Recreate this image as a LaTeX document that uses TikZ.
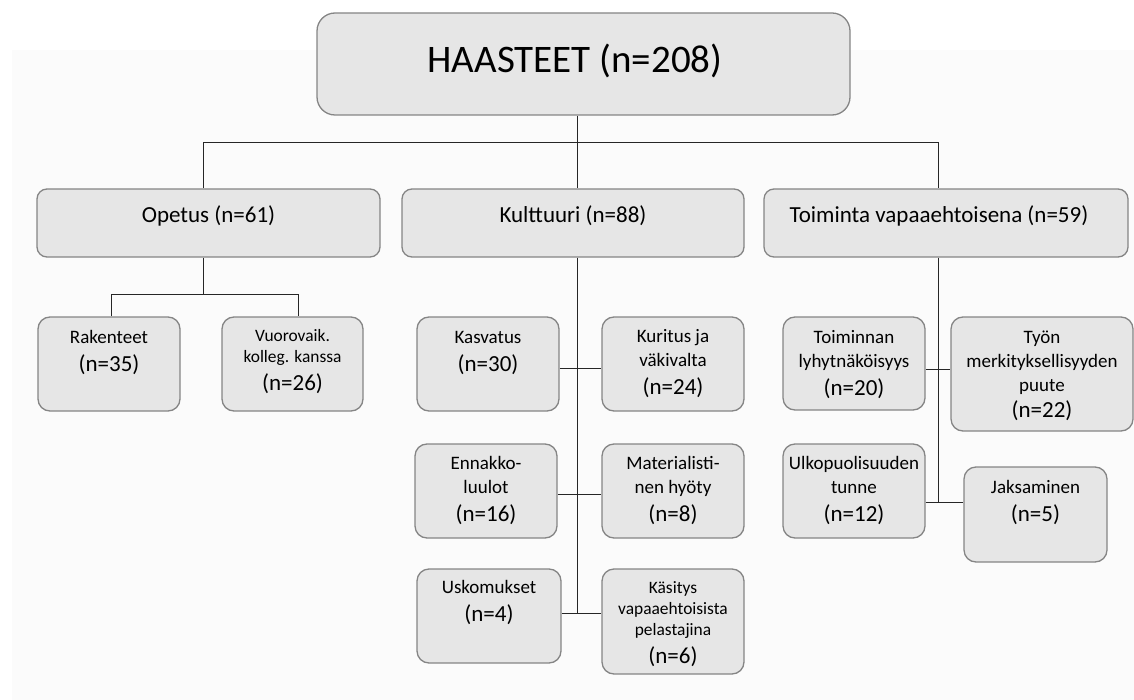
\documentclass[tikz,border=0pt]{standalone}
\usepackage{fontspec}
\setmainfont{Carlito}
\usetikzlibrary{calc}
\definecolor{boxFill}{HTML}{E6E6E6}
\definecolor{boxLine}{HTML}{858585}
\definecolor{paperGray}{HTML}{FBFBFB}
\newcommand{\nCount}[1]{{\fontsize{11.5}{12}\selectfont (n=#1)}}

\begin{document}
\begin{tikzpicture}[x=0.5pt, y=-0.5pt,
    box/.style={draw=boxLine, fill=boxFill, line width=0.65pt, rounded corners=6pt, inner sep=0pt},
    txt/.style={align=center, anchor=base, inner sep=0pt, font=\fontsize{9.5}{12}\selectfont},
    txtsm/.style={align=center, anchor=base, inner sep=0pt, font=\fontsize{8.7}{10.5}\selectfont},
    conn/.style={draw=black!85, line width=0.5pt}]
    \useasboundingbox (0,0) rectangle (1134,700);
    \fill[paperGray] (12,50) rectangle (1134,700);

    % top level
    \node[box, rounded corners=9pt, minimum width=266.5pt, minimum height=51pt] (top) at (583.5,64) {};
    \node[anchor=base, inner sep=0pt, font=\fontsize{19.5}{24}\selectfont] (topTxt) at (575,73) {HAASTEET (n=208)};

    % main groups
    \node[box, rounded corners=5pt, minimum width=171.5pt, minimum height=34pt] (opetus) at (208.5,223) {};
    \node[box, rounded corners=5pt, minimum width=171pt, minimum height=34pt] (kulttuuri) at (573,223) {};
    \node[box, rounded corners=5pt, minimum width=182pt, minimum height=34pt] (toiminta) at (946,223) {};
    \node[anchor=base, inner sep=0pt, font=\fontsize{11.5}{12}\selectfont] (opetusTxt) at (208.5,222) {Opetus (n=61)};
    \node[anchor=base, inner sep=0pt, font=\fontsize{11.5}{12}\selectfont] (kulttuuriTxt) at (573,222) {Kulttuuri (n=88)};
    \node[anchor=base, inner sep=0pt, font=\fontsize{11.5}{12}\selectfont] (toimintaTxt) at (939,222) {Toiminta vapaaehtoisena (n=59)};

    % Opetus
    \node[box, minimum width=71pt, minimum height=47pt] (rak) at (109,364) {};
    \node[box, minimum width=70.5pt, minimum height=47pt] (vuo) at (292.5,364) {};
    \node[txt] (rakTxt) at (109,371) {Rakenteet\\[2pt]\nCount{35}};
    \node[txtsm] (vuoTxt) at (292.5,390) {Vuorovaik.\\kolleg. kanssa\\[3.5pt]\nCount{26}};

    % Kulttuuri
    \node[box, minimum width=71pt, minimum height=47pt] (kas) at (488,364) {};
    \node[box, minimum width=71pt, minimum height=47pt] (kur) at (673,364) {};
    \node[box, minimum width=71pt, minimum height=47pt] (enn) at (486,491) {};
    \node[box, minimum width=71pt, minimum height=47pt] (mat) at (673,491) {};
    \node[box, minimum width=72pt, minimum height=47pt] (usk) at (489,616) {};
    \node[box, minimum width=71pt, minimum height=52.5pt] (kasi) at (673,621.5) {};
    \node[txt] (kasTxt) at (488,371) {Kasvatus\\[2pt]\nCount{30}};
    \node[txt] (kurTxt) at (673,394) {Kuritus ja\\väkivalta\\[2pt]\nCount{24}};
    \node[txt] (ennTxt) at (486,521) {Ennakko-\\luulot\\[2pt]\nCount{16}};
    \node[txt] (matTxt) at (673,521) {Materialisti-\\nen hyöty\\[2pt]\nCount{8}};
    \node[txt] (uskTxt) at (489,621) {Uskomukset\\[2pt]\nCount{4}};
    \node[txtsm] (kasiTxt) at (673,663) {Käsitys\\vapaaehtoisista\\pelastajina\\[3.5pt]\nCount{6}};

    % Toiminta
    \node[box, minimum width=71pt, minimum height=46.5pt] (toim) at (854,363.5) {};
    \node[box, minimum width=91pt, minimum height=57pt] (tyon) at (1042,374) {};
    \node[box, minimum width=71pt, minimum height=47pt] (ulko) at (854,491) {};
    \node[box, minimum width=71.5pt, minimum height=47.5pt] (jaks) at (1035.5,514.5) {};
    \node[txt] (toimTxt) at (854,395) {Toiminnan\\lyhytnäköisyys\\[2pt]\nCount{20}};
    \node[txt] (tyonTxt) at (1042,417) {Työn\\merkityksellisyyden\\puute\\[1pt]\nCount{22}};
    \node[txt] (ulkoTxt) at (854,521) {Ulkopuolisuuden\\tunne\\[2pt]\nCount{12}};
    \node[txt] (jaksTxt) at (1035.5,521) {Jaksaminen\\[2pt]\nCount{5}};

    % connectors
    \coordinate (barL) at (203,143);
    \coordinate (spineK) at (577,143);
    \coordinate (barR) at (938,143);
    \draw[conn] (spineK |- top.south) -- (spineK |- kulttuuri.north);
    \draw[conn] (barL |- opetus.north) -- (barL) -- (barR) -- (barR |- toiminta.north);

    \coordinate (oL) at (111,294);
    \coordinate (oR) at (298,294);
    \draw[conn] (barL |- opetus.south) -- (barL |- oL);
    \draw[conn] (oL |- rak.north) -- (oL) -- (oR) -- (oR |- vuo.north);

    \coordinate (kB1) at (577,368);
    \coordinate (kB2) at (577,494);
    \coordinate (kB3) at (577,613);
    \draw[conn] (spineK |- kulttuuri.south) -- (kB3);
    \draw[conn] (kas.east |- kB1) -- (kur.west |- kB1);
    \draw[conn] (enn.east |- kB2) -- (mat.west |- kB2);
    \draw[conn] (usk.east |- kB3) -- (kasi.west |- kB3);

    \coordinate (tB1) at (938,369);
    \coordinate (tB2) at (938,502);
    \draw[conn] (barR |- toiminta.south) -- (tB2);
    \draw[conn] (toim.east |- tB1) -- (tyon.west |- tB1);
    \draw[conn] (ulko.east |- tB2) -- (jaks.west |- tB2);
\end{tikzpicture}
\end{document}
